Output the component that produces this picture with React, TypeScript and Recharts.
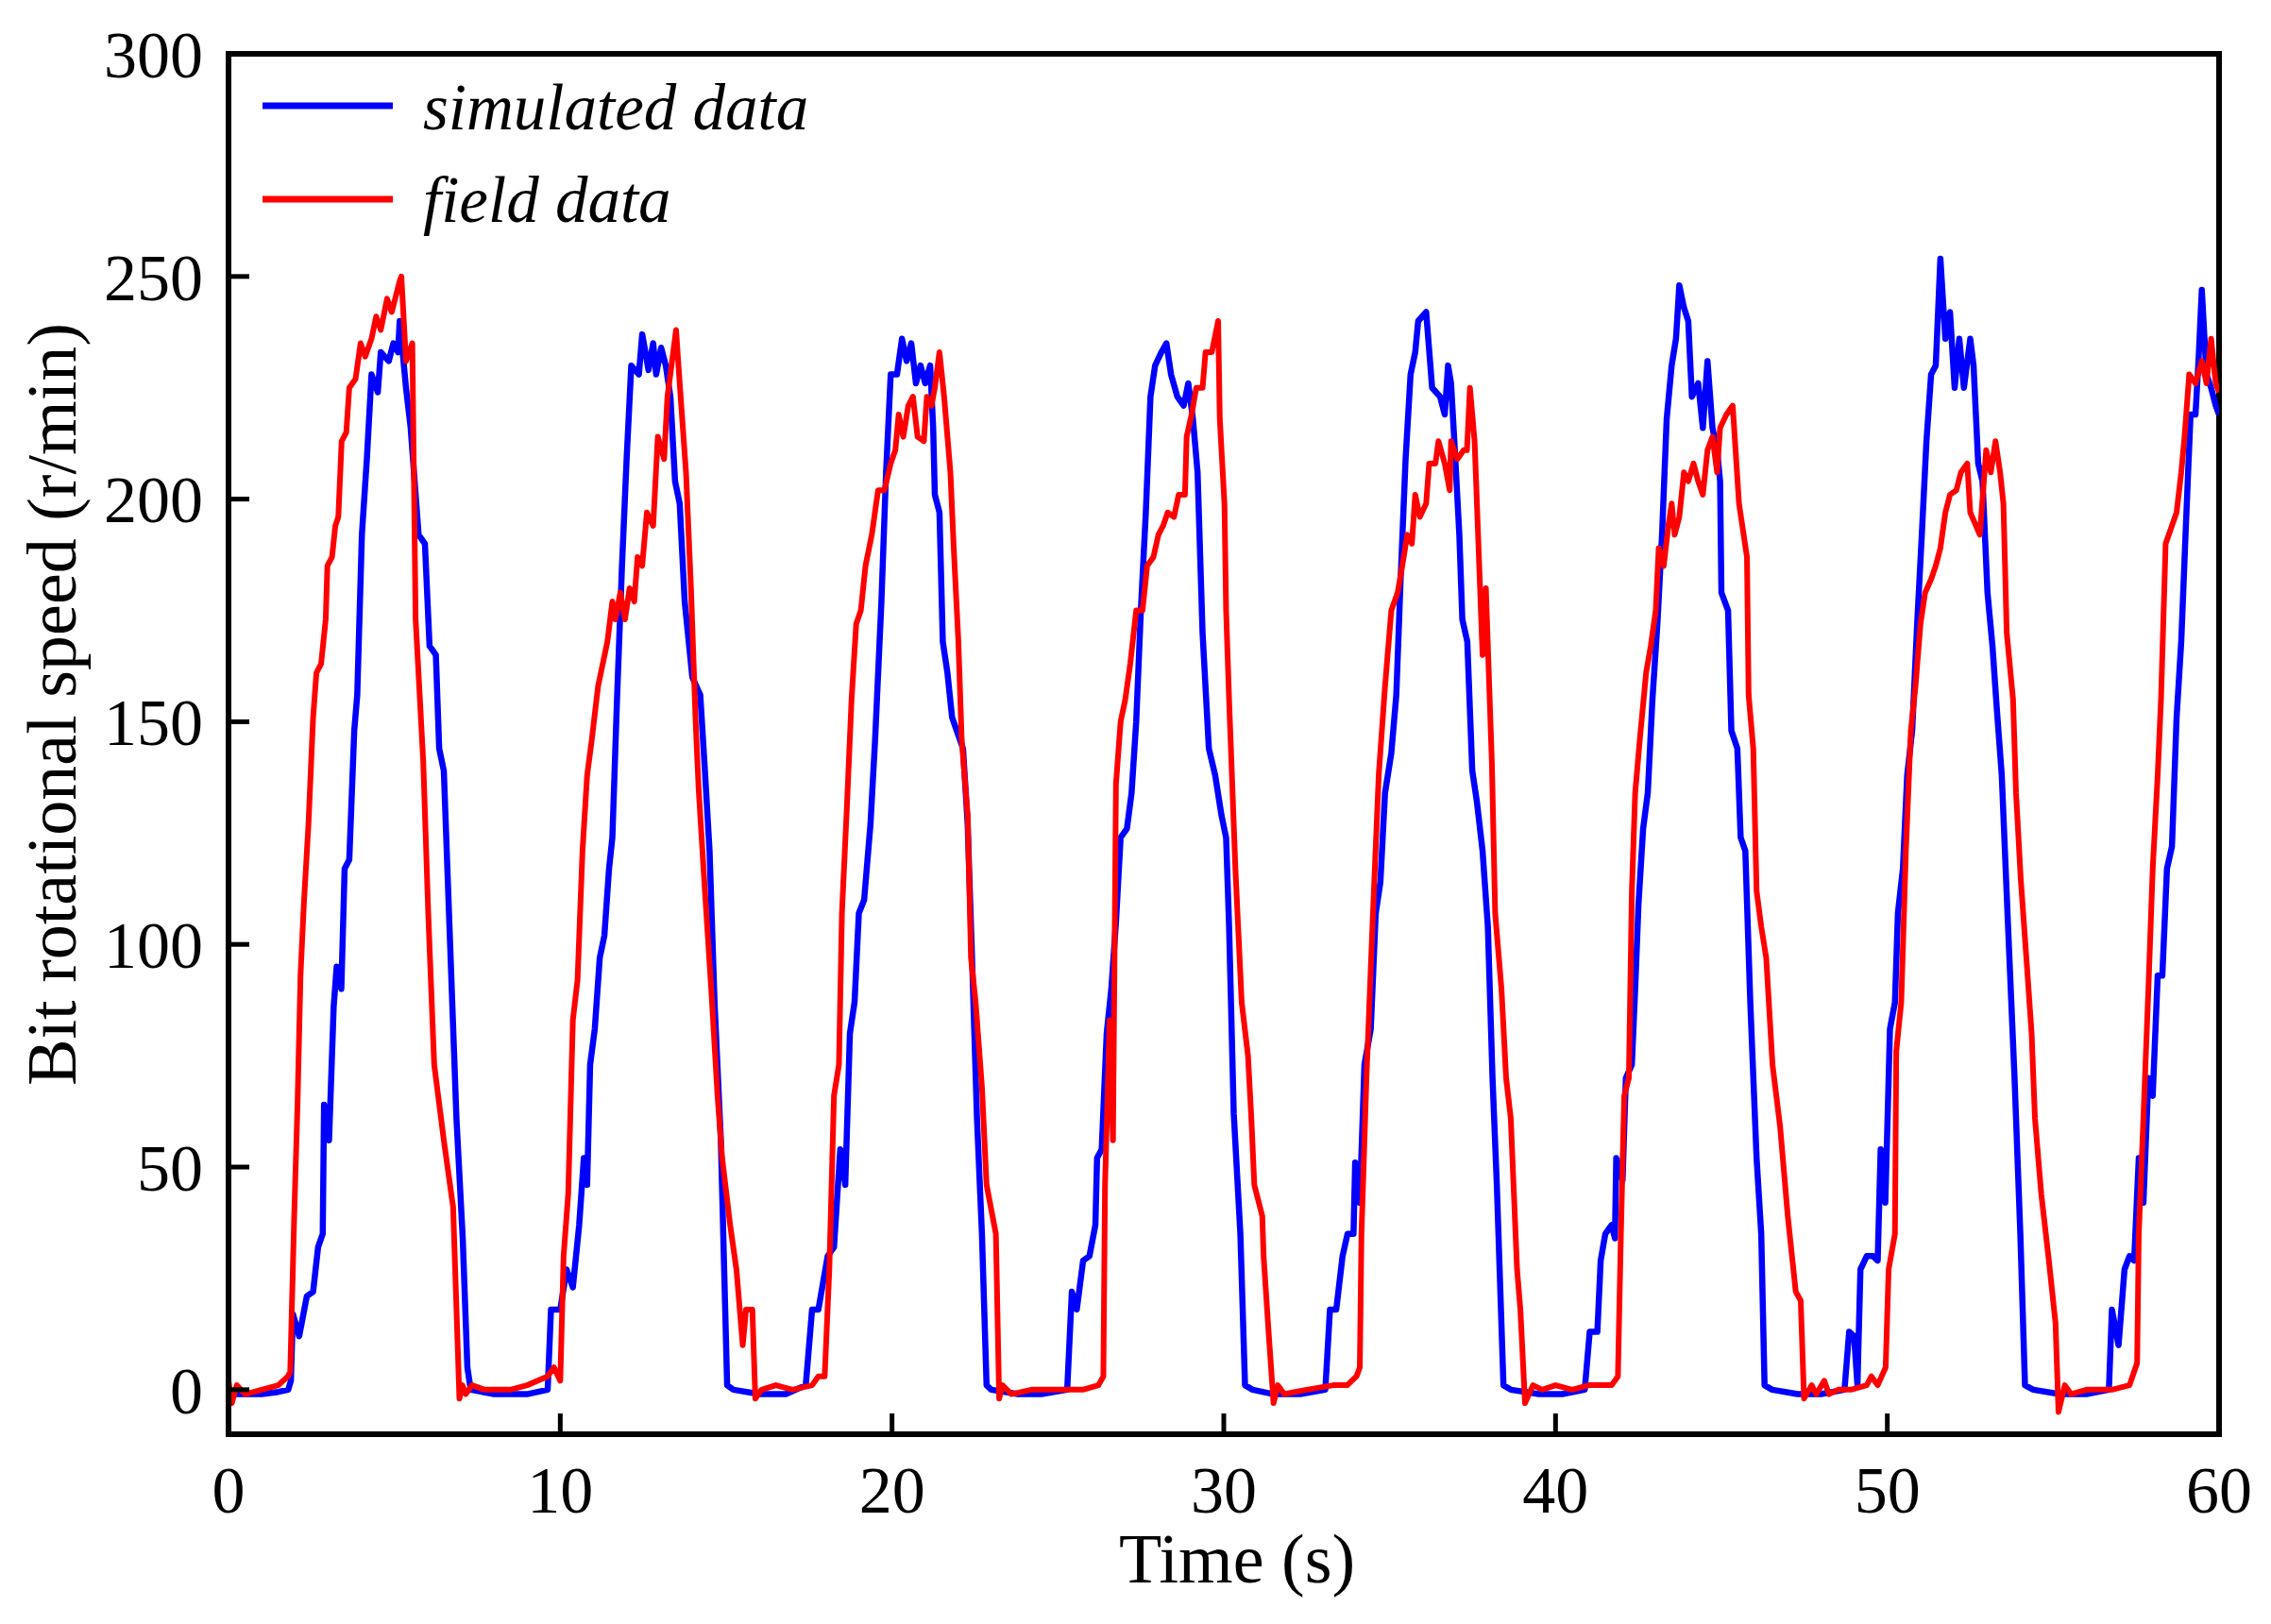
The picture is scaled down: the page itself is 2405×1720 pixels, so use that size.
import React from 'react';
import { LineChart, Line, XAxis, YAxis, ReferenceLine, Legend } from 'recharts';

// [time (s), speed (r/min)]
const simulatedPoints: number[][] = [
  [0, -1], [0.5, -1], [1.0, -1], [1.5, -0.5], [1.8, 0], [1.88, 2], [1.94, 17], [2.13, 12], [2.36, 21], [2.55, 22],
  [2.7, 32], [2.84, 35], [2.88, 64], [3.03, 56], [3.17, 86], [3.26, 95], [3.4, 90], [3.5, 117], [3.64, 119],
  [3.79, 148], [3.88, 156], [4.02, 192], [4.17, 209], [4.31, 228], [4.5, 224], [4.59, 233], [4.83, 231],
  [4.97, 235], [5.11, 233], [5.16, 240], [5.35, 225], [5.49, 216], [5.73, 192], [5.92, 190], [6.06, 167],
  [6.25, 165], [6.35, 144], [6.49, 139], [6.68, 100], [6.87, 61], [7.06, 34], [7.2, 5], [7.3, 0], [8.0, -1],
  [8.5, -1], [9.0, -1], [9.62, 0],
  [9.72, 18], [10.0, 18], [10.19, 27], [10.38, 23], [10.57, 37], [10.71, 52], [10.81, 46], [10.9, 73],
  [11.04, 81], [11.19, 97], [11.33, 102], [11.47, 117], [11.57, 124], [11.71, 155], [11.86, 185], [12.0, 209],
  [12.14, 230], [12.37, 228], [12.47, 237], [12.66, 229], [12.8, 235], [12.89, 228], [13.04, 234], [13.18, 230],
  [13.32, 223], [13.46, 204], [13.6, 199], [13.75, 177], [13.98, 160], [14.22, 156], [14.36, 139], [14.5, 121],
  [14.65, 87], [14.84, 56], [15.03, 1], [15.22, 0], [16.0, -1], [16.8, -1], [17.4, 1],
  [17.59, 18], [17.78, 18], [18.06, 30], [18.25, 32], [18.44, 54], [18.59, 46], [18.73, 80], [18.87, 87],
  [19.0, 107], [19.16, 110], [19.35, 127], [19.49, 146], [19.68, 177], [19.82, 206], [19.96, 228], [20.15, 228],
  [20.3, 236], [20.44, 231], [20.58, 235], [20.72, 226], [20.86, 230], [21.0, 226], [21.15, 230], [21.24, 216],
  [21.29, 201], [21.43, 197], [21.53, 168], [21.67, 161], [21.81, 151], [21.95, 148], [22.14, 144], [22.28, 127],
  [22.42, 95], [22.56, 61], [22.71, 35], [22.85, 1], [22.99, 0], [23.8, -1], [24.5, -1], [25.28, 0],
  [25.42, 22], [25.57, 18], [25.76, 29], [25.95, 30], [26.13, 37], [26.18, 52], [26.32, 54], [26.47, 80],
  [26.61, 90], [26.75, 105], [26.89, 124], [27.08, 126], [27.22, 134], [27.36, 150], [27.5, 175], [27.65, 197],
  [27.79, 223], [27.93, 230], [28.12, 233], [28.27, 235], [28.41, 228], [28.6, 223], [28.79, 221], [28.93, 226],
  [29.07, 218], [29.21, 206], [29.36, 170], [29.55, 144], [29.74, 138], [29.93, 129], [30.07, 124], [30.16, 104],
  [30.3, 62], [30.5, 35], [30.64, 1], [30.87, 0], [31.5, -1], [32.3, -1], [33.06, 0],
  [33.2, 18], [33.39, 18], [33.58, 30], [33.73, 35], [33.91, 35], [33.96, 51], [34.1, 42], [34.24, 73],
  [34.43, 81], [34.58, 107], [34.72, 114], [34.86, 134], [35.05, 143], [35.2, 156], [35.33, 182], [35.48, 209],
  [35.63, 228], [35.77, 233], [35.86, 240], [36.1, 242], [36.28, 225], [36.52, 223], [36.66, 219], [36.76, 230],
  [36.85, 226], [36.95, 213], [37.1, 192], [37.19, 173], [37.34, 168], [37.49, 139], [37.63, 132], [37.8, 121],
  [37.96, 104], [38.1, 70], [38.23, 46], [38.43, 1], [38.65, 0], [39.5, -1], [40.2, -1], [40.88, 0],
  [41.03, 13], [41.26, 13], [41.36, 29], [41.5, 35], [41.69, 37], [41.79, 34], [41.83, 52], [42.02, 47],
  [42.12, 70], [42.3, 73], [42.4, 90], [42.5, 109], [42.64, 126], [42.78, 134], [42.92, 155], [43.07, 172],
  [43.21, 192], [43.35, 218], [43.5, 230], [43.63, 236], [43.73, 248], [43.87, 243], [44.0, 240], [44.11, 223],
  [44.3, 226], [44.44, 216], [44.58, 231], [44.73, 216], [44.87, 211], [44.96, 204], [45.0, 179], [45.2, 175],
  [45.3, 148], [45.48, 144], [45.58, 124], [45.72, 121], [45.87, 87], [46.06, 52], [46.2, 35], [46.3, 1],
  [46.53, 0], [47.3, -1], [48.0, -1], [48.71, 0],
  [48.85, 13], [49.0, 12], [49.1, 1], [49.19, 27], [49.38, 30], [49.57, 30], [49.71, 29], [49.8, 54],
  [49.94, 42], [50.08, 81], [50.23, 87], [50.32, 107], [50.47, 117], [50.6, 138], [50.75, 148], [50.9, 172],
  [51.04, 192], [51.18, 213], [51.32, 228], [51.46, 230], [51.6, 254], [51.75, 236], [51.89, 242], [52.03, 225],
  [52.17, 236], [52.31, 225], [52.5, 236], [52.6, 230], [52.74, 208], [52.87, 204], [53.02, 179], [53.17, 167],
  [53.3, 153], [53.45, 138], [53.64, 104], [53.83, 71], [54.01, 35], [54.15, 1], [54.4, 0], [55.2, -1],
  [56.0, -1], [56.68, 0],
  [56.77, 18], [56.97, 10], [57.15, 27], [57.3, 30], [57.44, 29], [57.58, 52], [57.72, 42], [57.87, 70],
  [58.0, 66], [58.15, 93], [58.29, 93], [58.43, 117], [58.58, 122], [58.72, 151], [58.86, 168], [59.0, 194],
  [59.14, 219], [59.29, 219], [59.38, 231], [59.48, 247], [59.62, 228], [59.76, 225], [59.9, 221], [60, 219],
];

const fieldPoints: number[][] = [
  [0, 2], [0.1, -3], [0.25, 1], [0.5, -1], [1.0, 0], [1.5, 1], [1.79, 3], [1.86, 4], [1.98, 39], [2.08, 64],
  [2.17, 93], [2.27, 109], [2.41, 127], [2.55, 151], [2.65, 161], [2.79, 163], [2.93, 173], [2.98, 185],
  [3.12, 187], [3.22, 194], [3.31, 196], [3.41, 213], [3.55, 215], [3.64, 225], [3.83, 227], [3.98, 235],
  [4.12, 232], [4.31, 236], [4.45, 241], [4.59, 238], [4.78, 245], [4.92, 242], [5.16, 249], [5.21, 250],
  [5.35, 231], [5.54, 235], [5.64, 173], [5.87, 141], [6.02, 107], [6.2, 73], [6.49, 56], [6.77, 41],
  [6.96, -2], [7.05, 1], [7.15, -1], [7.34, 1], [7.72, 0], [8.5, 0], [9.0, 1], [9.62, 3], [9.81, 5], [10.0, 2],
  [10.1, 30], [10.24, 44], [10.38, 83], [10.52, 92], [10.67, 121], [10.81, 138], [10.95, 146], [11.14, 158],
  [11.28, 163], [11.42, 168], [11.57, 177], [11.66, 173], [11.81, 179], [11.95, 173], [12.09, 180], [12.23, 177],
  [12.33, 187], [12.47, 185], [12.61, 197], [12.8, 194], [12.94, 214], [13.13, 209], [13.23, 223], [13.37, 231],
  [13.49, 238], [13.6, 226], [13.79, 206], [13.94, 180], [14.08, 150], [14.17, 135], [14.36, 112], [14.55, 90],
  [14.74, 66], [14.88, 52], [15.12, 37], [15.31, 27], [15.5, 10], [15.6, 18], [15.79, 18], [15.88, -2],
  [16.07, 0], [16.5, 1], [17.0, 0], [17.59, 1], [17.78, 3], [17.97, 3],
  [18.11, 27], [18.25, 66], [18.4, 73], [18.49, 107], [18.64, 131], [18.78, 155], [18.92, 172], [19.06, 175],
  [19.2, 185], [19.39, 192], [19.58, 202], [19.77, 202], [19.96, 208], [20.1, 211], [20.2, 219], [20.34, 214],
  [20.49, 221], [20.63, 223], [20.77, 214], [20.96, 213], [21.05, 223], [21.19, 221], [21.29, 225], [21.43, 233],
  [21.57, 223], [21.76, 206], [21.86, 189], [22.0, 168], [22.1, 146], [22.28, 129], [22.38, 97], [22.52, 87],
  [22.71, 68], [22.85, 46], [23.13, 35], [23.23, -2], [23.33, 1], [23.6, -1], [24.2, 0], [25.0, 0], [25.75, 0],
  [26.22, 1], [26.37, 3],
  [26.42, 46], [26.56, 83], [26.66, 56], [26.75, 136], [26.89, 150], [27.03, 155], [27.18, 163], [27.36, 175],
  [27.55, 175], [27.69, 185], [27.88, 187], [28.03, 192], [28.17, 194], [28.31, 197], [28.5, 196], [28.64, 201],
  [28.83, 201], [28.88, 214], [29.03, 219], [29.17, 225], [29.36, 225], [29.45, 233], [29.64, 233], [29.83, 240],
  [29.88, 218], [30.02, 199], [30.07, 175], [30.16, 155], [30.35, 117], [30.54, 87], [30.73, 75], [30.83, 61],
  [30.92, 46], [31.16, 39], [31.2, 30], [31.35, 13], [31.5, -3], [31.63, 1], [31.82, -1], [32.5, 0], [33.3, 1],
  [33.72, 1], [34.0, 3], [34.1, 5],
  [34.15, 35], [34.3, 70], [34.48, 104], [34.67, 138], [34.86, 158], [35.05, 175], [35.24, 179], [35.38, 185],
  [35.53, 192], [35.67, 190], [35.77, 201], [35.91, 196], [36.1, 199], [36.19, 208], [36.38, 208], [36.47, 213],
  [36.66, 208], [36.81, 202], [36.85, 213], [37.04, 209], [37.23, 211], [37.33, 211], [37.42, 225], [37.56, 213],
  [37.7, 185], [37.8, 165], [37.9, 180], [38.08, 141], [38.18, 107], [38.37, 90], [38.51, 70], [38.65, 61],
  [38.84, 27], [38.94, 18], [39.08, -3], [39.32, 1], [39.6, 0], [40.0, 1], [40.5, 0], [41.0, 1], [41.69, 1],
  [41.88, 3],
  [41.97, 35], [42.07, 66], [42.21, 70], [42.3, 112], [42.4, 134], [42.54, 146], [42.73, 161], [42.87, 167],
  [43.02, 175], [43.11, 189], [43.26, 185], [43.4, 194], [43.5, 199], [43.59, 192], [43.73, 196], [43.87, 206],
  [44.0, 204], [44.16, 208], [44.3, 204], [44.44, 201], [44.58, 211], [44.73, 214], [44.87, 206], [44.96, 216],
  [45.15, 219], [45.34, 221], [45.53, 199], [45.77, 187], [45.82, 156], [45.96, 144], [46.06, 112], [46.2, 104],
  [46.35, 97], [46.54, 73], [46.77, 59], [47.0, 39], [47.24, 22], [47.39, 20], [47.49, -2], [47.72, 1],
  [47.86, -1], [48.1, 2], [48.24, -1], [48.52, 0], [48.9, 0], [49.38, 1], [49.52, 3], [49.71, 1], [49.95, 5],
  [50.04, 27], [50.23, 35], [50.27, 76], [50.42, 87], [50.56, 121], [50.71, 148], [50.85, 158], [51.0, 172],
  [51.14, 179], [51.32, 182], [51.46, 185], [51.6, 189], [51.75, 197], [51.89, 201], [52.08, 202], [52.22, 206],
  [52.41, 208], [52.5, 197], [52.79, 192], [52.98, 211], [53.12, 206], [53.26, 213], [53.4, 206], [53.5, 199],
  [53.6, 170], [53.79, 155], [53.88, 134], [54.02, 115], [54.21, 95], [54.35, 80], [54.45, 61], [54.64, 44],
  [54.87, 29], [55.07, 15], [55.16, -5], [55.35, 1], [55.54, -1], [56.0, 0], [56.77, 0], [57.3, 1], [57.53, 6],
  [57.58, 35], [57.72, 61], [57.87, 90], [58.0, 117], [58.15, 138], [58.25, 155], [58.39, 190], [58.72, 197],
  [58.86, 206], [58.96, 214], [59.1, 228], [59.29, 226], [59.48, 231], [59.62, 226], [59.76, 236], [59.9, 226],
  [60, 224],
];

const xTicks = [0, 10, 20, 30, 40, 50, 60];
const yTicks = [0, 50, 100, 150, 200, 250, 300];
const seriesNames = ['simulated data', 'field data'];
const seriesColors = ['#0000FF', '#FF0000'];

const FONT = '"Liberation Serif", "Times New Roman", serif';

const simulatedData = simulatedPoints.map(([t, v]) => ({ t, v }));
const fieldData = fieldPoints.map(([t, v]) => ({ t, v }));

const LegendBox = () => (
  <svg width={1000} height={300} style={{ display: 'block' }}>
    {seriesNames.map((name, i) => {
      const ly = i === 0 ? 112 : 211;
      const by = i === 0 ? 137 : 235;
      return (
        <g key={name}>
          <line x1={278} x2={416} y1={ly} y2={ly} stroke={seriesColors[i]} strokeWidth={7} />
          <text x={448} y={by} fontFamily={FONT} fontStyle="italic" fontSize={69} fill="#000">
            {name}
          </text>
        </g>
      );
    })}
  </svg>
);

const YLabel = () => (
  <text
    transform="translate(80, 746) rotate(-90)"
    textAnchor="middle"
    fontFamily={FONT}
    fontSize={74}
    fill="#000"
  >
    Bit rotational speed (r/min)
  </text>
);

const XLabel = () => (
  <text x={1310} y={1676} textAnchor="middle" fontFamily={FONT} fontSize={74} fill="#000">
    Time (s)
  </text>
);

export default function App() {
  return (
    <div style={{ position: 'absolute', left: 0, top: 0, width: 2405, height: 1720, background: '#fff' }}>
      <LineChart
        width={2405}
        height={1720}
        margin={{ top: 57, right: 55, bottom: 0, left: 0 }}
      >
        <XAxis
          type="number"
          dataKey="t"
          domain={[0, 60]}
          ticks={xTicks}
          allowDataOverflow
          height={201}
          axisLine={{ stroke: '#000', strokeWidth: 6, strokeLinecap: 'square' }}
          tickLine={{ stroke: '#000', strokeWidth: 5 }}
          tickSize={-22}
          tickMargin={55}
          tick={{ fill: '#000', fontSize: 70, fontFamily: FONT }}
          label={{ content: () => <XLabel /> }}
        />
        <YAxis
          type="number"
          domain={[-10, 300]}
          ticks={yTicks}
          allowDataOverflow
          width={242}
          axisLine={{ stroke: '#000', strokeWidth: 6, strokeLinecap: 'square' }}
          tickLine={{ stroke: '#000', strokeWidth: 5 }}
          tickSize={-22}
          tickMargin={49}
          tick={{ fill: '#000', fontSize: 70, fontFamily: FONT }}
          label={{ content: () => <YLabel /> }}
        />
        <ReferenceLine y={300} stroke="#000" strokeWidth={6} strokeLinecap="square" />
        <ReferenceLine x={60} stroke="#000" strokeWidth={6} strokeLinecap="square" />
        <Line
          data={simulatedData}
          dataKey="v"
          name={seriesNames[0]}
          type="linear"
          stroke={seriesColors[0]}
          strokeWidth={6.5}
          strokeLinejoin="round"
          dot={false}
          activeDot={false}
          isAnimationActive={false}
        />
        <Line
          data={fieldData}
          dataKey="v"
          name={seriesNames[1]}
          type="linear"
          stroke={seriesColors[1]}
          strokeWidth={6}
          strokeLinejoin="round"
          dot={false}
          activeDot={false}
          isAnimationActive={false}
        />
        <Legend
          layout="vertical"
          align="center"
          verticalAlign="middle"
          wrapperStyle={{ position: 'absolute', left: 0, top: 0, width: 1000, height: 300, pointerEvents: 'none' }}
          content={() => <LegendBox />}
        />
      </LineChart>
    </div>
  );
}
